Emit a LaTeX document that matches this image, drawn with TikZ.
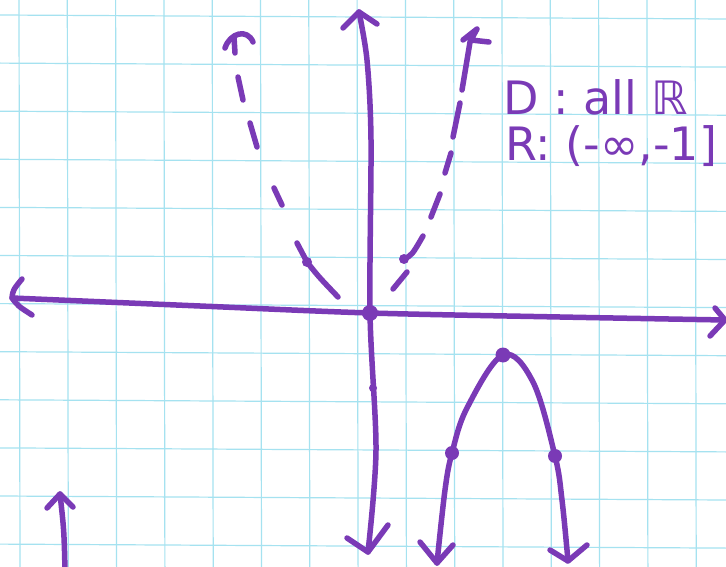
\documentclass[tikz,border=0pt]{standalone}
\usepackage{fontspec}
\newfontfamily\hand{DejaVu Sans}
\definecolor{pen}{RGB}{122,58,182}
\definecolor{gridc}{RGB}{165,226,240}
\begin{document}
\begin{tikzpicture}[x=1pt,y=-1pt,
  pen/.style={draw=pen,line width=5.5pt,line cap=round,line join=round},
  gridline/.style={draw=gridc,line width=1.2pt},
  ptdot/.style={fill=pen}]
\useasboundingbox (0,0) rectangle (726,567);
\fill[white] (0,0) rectangle (726,567);
% grid
\foreach \k in {0,...,14} {
  \pgfmathsetmacro{\gx}{19+48.3*\k}
  \draw[gridline] (\gx,0) -- (\gx+1,567);
}
\foreach \k in {0,...,11} {
  \pgfmathsetmacro{\gy}{15+48.1*\k}
  \draw[gridline] (0,\gy) -- (726,\gy+4);
}
% named points
\coordinate (O) at (370,313);
\coordinate (xl) at (12,298);
\coordinate (xr) at (725,320);
\coordinate (yt) at (359,12);
\coordinate (yb) at (368,552);
\coordinate (V) at (503,355);
\coordinate (P1) at (452,453);
\coordinate (P2) at (555,456);
\coordinate (Q1) at (307,262);
\coordinate (Q2) at (404,259);
\coordinate (Y1) at (373,388);
% x-axis
\draw[pen] plot[smooth] coordinates {(xl) (200,306) (O) (560,317) (xr)};
\draw[pen] (22,279) .. controls (13,290) .. (xl) .. controls (18,306) .. (32,315);
\draw[pen] (715,308) -- (xr) -- (710,336);
% y-axis
\draw[pen] plot[smooth] coordinates {(yt) (367,60) (371,140) (O) (376,450) (yb)};
\draw[pen] (343,28) -- (yt) -- (377,24);
\draw[pen] (347,538) -- (yb) -- (388,525);
% dashed parabola, left branch
\draw[pen] (225,48) .. controls (230,33) and (247,28) .. (253,42);
\draw[pen] (234,37) -- (235,53);
\draw[pen] (238,77) -- (243,100);
\draw[pen] (250,123) -- (257,147);
\draw[pen] (274,188) -- (282,205);
\draw[pen] (297,243) -- (Q1) .. controls (318,276) .. (338,297);
% dashed parabola, right branch
\draw[pen] (393,289) -- (407,272);
\draw[pen] (Q2) .. controls (412,255) .. (423,236);
\draw[pen] (431,217) -- (440,194);
\draw[pen] (445,173) -- (451,153);
\draw[pen] (453,137) -- (460,103);
\draw[pen] (462,90) -- (471,36);
\draw[pen] (463,40) -- (477,29) -- (471,40) -- (489,42);
% solid parabola
\coordinate (al) at (437,563);
\coordinate (ar) at (568,561);
\draw[pen] plot[smooth,tension=0.6] coordinates {(al) (445,490) (P1) (467,408) (V) (533,382) (P2) (562,500) (ar)};
\draw[pen] (420,542) -- (al) -- (453,545);
\draw[pen] (550,550) -- (ar) -- (587,545);
% bottom-left arrow
\coordinate (bl) at (60,494);
\draw[pen] (65,570) .. controls (64,530) .. (bl);
\draw[pen] (47,508) -- (bl) -- (73,507);
% dots
\fill[ptdot] (O) circle (8);
\fill[ptdot] (V) circle (7.5);
\fill[ptdot] (P1) circle (7);
\fill[ptdot] (P2) circle (7);
\fill[ptdot] (Q1) circle (5);
\fill[ptdot] (Q2) circle (5);
\fill[ptdot] (Y1) circle (4);
% text
\node[anchor=base west,inner sep=0,text=pen,font=\hand\fontsize{46}{50}\selectfont] (dom) at (503,115) {D : all ℝ};
\node[anchor=base west,inner sep=0,text=pen,font=\hand\fontsize{46}{50}\selectfont] (ran) at (505,161) {R: (-∞,-1]};
\end{tikzpicture}
\end{document}
